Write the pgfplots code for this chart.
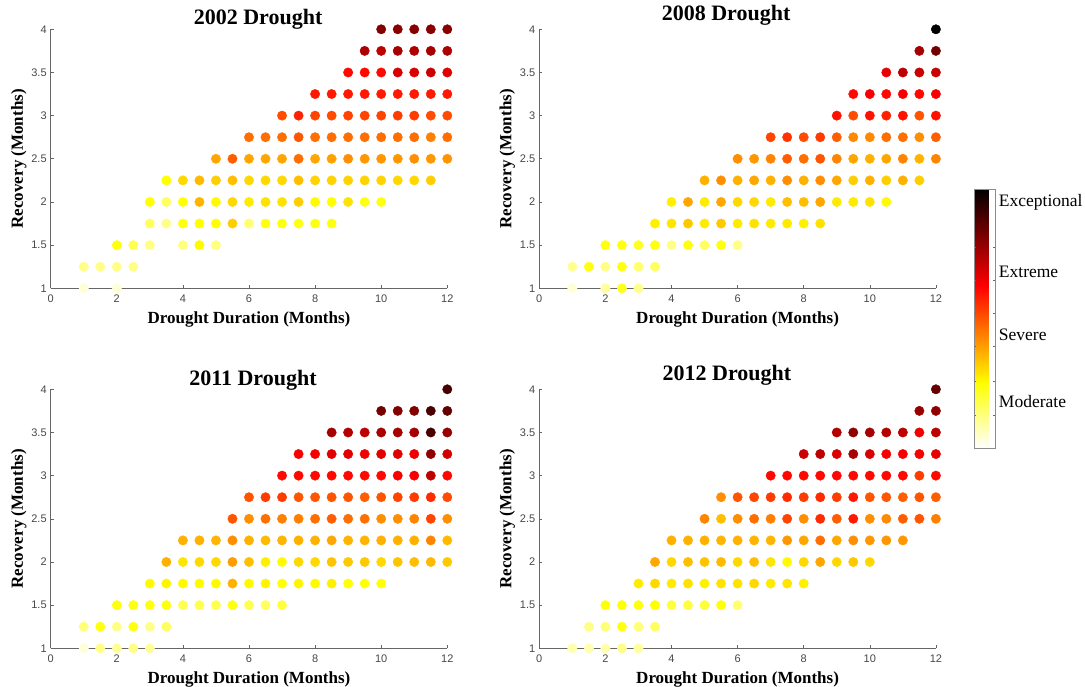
\documentclass[border=0pt]{standalone}
\usepackage{pgfplots}
\pgfplotsset{compat=1.18}
\usepackage{pgfplotstable}
\usepackage{fontspec}
\setmainfont{Liberation Serif}
\newfontfamily\sansf{Liberation Sans}

\pgfplotstableread{
x y c
1 1 0.05
2 1 0.05
1 1.25 0.15
1.5 1.25 0.15
2 1.25 0.15
2.5 1.25 0.15
2 1.5 0.30
2.5 1.5 0.22
3 1.5 0.16
4 1.5 0.16
4.5 1.5 0.33
5 1.5 0.16
3 1.75 0.20
3.5 1.75 0.15
4 1.75 0.30
4.5 1.75 0.32
5 1.75 0.32
5.5 1.75 0.42
6 1.75 0.18
6.5 1.75 0.30
7 1.75 0.30
7.5 1.75 0.30
8 1.75 0.30
8.5 1.75 0.30
3 2 0.32
3.5 2 0.20
4 2 0.32
4.5 2 0.47
5 2 0.33
5.5 2 0.40
6 2 0.36
6.5 2 0.38
7 2 0.38
7.5 2 0.42
8 2 0.33
8.5 2 0.32
9 2 0.38
9.5 2 0.30
10 2 0.30
3.5 2.25 0.32
4 2.25 0.40
4.5 2.25 0.46
5 2.25 0.42
5.5 2.25 0.45
6 2.25 0.40
6.5 2.25 0.40
7 2.25 0.40
7.5 2.25 0.45
8 2.25 0.41
8.5 2.25 0.41
9 2.25 0.41
9.5 2.25 0.41
10 2.25 0.41
10.5 2.25 0.40
11 2.25 0.40
11.5 2.25 0.42
5 2.5 0.50
5.5 2.5 0.62
6 2.5 0.50
6.5 2.5 0.50
7 2.5 0.50
7.5 2.5 0.60
8 2.5 0.50
8.5 2.5 0.51
9 2.5 0.55
9.5 2.5 0.53
10 2.5 0.53
10.5 2.5 0.53
11 2.5 0.55
11.5 2.5 0.53
12 2.5 0.54
6 2.75 0.60
6.5 2.75 0.60
7 2.75 0.60
7.5 2.75 0.63
8 2.75 0.60
8.5 2.75 0.60
9 2.75 0.60
9.5 2.75 0.60
10 2.75 0.60
10.5 2.75 0.60
11 2.75 0.60
11.5 2.75 0.58
12 2.75 0.60
7 3 0.64
7.5 3 0.69
8 3 0.65
8.5 3 0.64
9 3 0.65
9.5 3 0.65
10 3 0.65
10.5 3 0.66
11 3 0.66
11.5 3 0.64
12 3 0.64
8 3.25 0.70
8.5 3.25 0.70
9 3.25 0.70
9.5 3.25 0.70
10 3.25 0.70
10.5 3.25 0.70
11 3.25 0.70
11.5 3.25 0.70
12 3.25 0.70
9 3.5 0.72
9.5 3.5 0.72
10 3.5 0.72
10.5 3.5 0.78
11 3.5 0.78
11.5 3.5 0.80
12 3.5 0.77
9.5 3.75 0.84
10 3.75 0.82
10.5 3.75 0.85
11 3.75 0.84
11.5 3.75 0.85
12 3.75 0.84
10 4 0.90
10.5 4 0.89
11 4 0.89
11.5 4 0.89
12 4 0.89
}\dA

\pgfplotstableread{
x y c
1 1 0.05
2 1 0.12
2.5 1 0.28
3 1 0.14
1 1.25 0.14
1.5 1.25 0.30
2 1.25 0.15
2.5 1.25 0.30
3 1.25 0.18
3.5 1.25 0.20
2 1.5 0.30
2.5 1.5 0.30
3 1.5 0.28
3.5 1.5 0.30
4 1.5 0.15
4.5 1.5 0.30
5 1.5 0.20
5.5 1.5 0.30
6 1.5 0.15
3.5 1.75 0.35
4 1.75 0.37
4.5 1.75 0.43
5 1.75 0.36
5.5 1.75 0.43
6 1.75 0.36
6.5 1.75 0.38
7 1.75 0.36
7.5 1.75 0.36
8 1.75 0.35
8.5 1.75 0.38
4 2 0.35
4.5 2 0.50
5 2 0.36
5.5 2 0.50
6 2 0.40
6.5 2 0.40
7 2 0.36
7.5 2 0.45
8 2 0.45
8.5 2 0.50
9 2 0.36
9.5 2 0.36
10 2 0.38
10.5 2 0.33
5 2.25 0.48
5.5 2.25 0.55
6 2.25 0.48
6.5 2.25 0.50
7 2.25 0.48
7.5 2.25 0.55
8 2.25 0.48
8.5 2.25 0.55
9 2.25 0.50
9.5 2.25 0.42
10 2.25 0.48
10.5 2.25 0.42
11 2.25 0.48
11.5 2.25 0.42
6 2.5 0.55
6.5 2.5 0.53
7 2.5 0.57
7.5 2.5 0.62
8 2.5 0.60
8.5 2.5 0.63
9 2.5 0.57
9.5 2.5 0.50
10 2.5 0.48
10.5 2.5 0.50
11 2.5 0.57
11.5 2.5 0.47
12 2.5 0.57
7 2.75 0.65
7.5 2.75 0.67
8 2.75 0.64
8.5 2.75 0.66
9 2.75 0.62
9.5 2.75 0.56
10 2.75 0.56
10.5 2.75 0.60
11 2.75 0.60
11.5 2.75 0.55
12 2.75 0.62
9 3 0.71
9.5 3 0.64
10 3 0.71
10.5 3 0.69
11 3 0.71
11.5 3 0.63
12 3 0.71
9.5 3.25 0.72
10 3.25 0.74
10.5 3.25 0.72
11 3.25 0.74
11.5 3.25 0.72
12 3.25 0.74
10.5 3.5 0.76
11 3.5 0.82
11.5 3.5 0.80
12 3.5 0.80
11.5 3.75 0.85
12 3.75 0.92
12 4 1.00
}\dB

\pgfplotstableread{
x y c
1 1 0.05
1.5 1 0.15
2 1 0.13
2.5 1 0.15
3 1 0.13
1 1.25 0.17
1.5 1.25 0.30
2 1.25 0.15
2.5 1.25 0.30
3 1.25 0.15
3.5 1.25 0.20
2 1.5 0.30
2.5 1.5 0.30
3 1.5 0.30
3.5 1.5 0.30
4 1.5 0.22
4.5 1.5 0.22
5 1.5 0.22
5.5 1.5 0.30
6 1.5 0.22
6.5 1.5 0.20
7 1.5 0.24
3 1.75 0.33
3.5 1.75 0.34
4 1.75 0.33
4.5 1.75 0.33
5 1.75 0.33
5.5 1.75 0.48
6 1.75 0.33
6.5 1.75 0.34
7 1.75 0.31
7.5 1.75 0.34
8 1.75 0.33
8.5 1.75 0.35
9 1.75 0.31
9.5 1.75 0.31
10 1.75 0.31
3.5 2 0.48
4 2 0.37
4.5 2 0.40
5 2 0.40
5.5 2 0.52
6 2 0.45
6.5 2 0.35
7 2 0.33
7.5 2 0.40
8 2 0.40
8.5 2 0.44
9 2 0.43
9.5 2 0.43
10 2 0.40
10.5 2 0.44
11 2 0.45
11.5 2 0.46
12 2 0.43
4 2.25 0.48
4.5 2.25 0.48
5 2.25 0.47
5.5 2.25 0.55
6 2.25 0.48
6.5 2.25 0.46
7 2.25 0.47
7.5 2.25 0.48
8 2.25 0.48
8.5 2.25 0.50
9 2.25 0.47
9.5 2.25 0.47
10 2.25 0.48
10.5 2.25 0.48
11 2.25 0.48
11.5 2.25 0.57
12 2.25 0.46
5.5 2.5 0.63
6 2.5 0.55
6.5 2.5 0.60
7 2.5 0.58
7.5 2.5 0.58
8 2.5 0.60
8.5 2.5 0.62
9 2.5 0.60
9.5 2.5 0.60
10 2.5 0.55
10.5 2.5 0.55
11 2.5 0.57
11.5 2.5 0.65
12 2.5 0.55
6 2.75 0.63
6.5 2.75 0.66
7 2.75 0.66
7.5 2.75 0.63
8 2.75 0.63
8.5 2.75 0.63
9 2.75 0.63
9.5 2.75 0.62
10 2.75 0.63
10.5 2.75 0.65
11 2.75 0.66
11.5 2.75 0.68
12 2.75 0.64
7 3 0.72
7.5 3 0.72
8 3 0.72
8.5 3 0.72
9 3 0.72
9.5 3 0.72
10 3 0.72
10.5 3 0.74
11 3 0.74
11.5 3 0.82
12 3 0.72
7.5 3.25 0.74
8 3.25 0.74
8.5 3.25 0.77
9 3.25 0.77
9.5 3.25 0.75
10 3.25 0.77
10.5 3.25 0.77
11 3.25 0.75
11.5 3.25 0.88
12 3.25 0.79
8.5 3.5 0.85
9 3.5 0.83
9.5 3.5 0.82
10 3.5 0.85
10.5 3.5 0.85
11 3.5 0.85
11.5 3.5 0.95
12 3.5 0.87
10 3.75 0.92
10.5 3.75 0.90
11 3.75 0.90
11.5 3.75 0.95
12 3.75 0.93
12 4 0.95
}\dC

\pgfplotstableread{
x y c
1 1 0.10
1.5 1 0.10
2 1 0.10
2.5 1 0.15
3 1 0.12
1.5 1.25 0.15
2 1.25 0.17
2.5 1.25 0.30
3 1.25 0.17
3.5 1.25 0.20
2 1.5 0.31
2.5 1.5 0.31
3 1.5 0.30
3.5 1.5 0.32
4 1.5 0.24
4.5 1.5 0.24
5 1.5 0.25
5.5 1.5 0.31
6 1.5 0.18
3 1.75 0.36
3.5 1.75 0.40
4 1.75 0.36
4.5 1.75 0.38
5 1.75 0.35
5.5 1.75 0.38
6 1.75 0.38
6.5 1.75 0.40
7 1.75 0.36
7.5 1.75 0.37
8 1.75 0.35
3.5 2 0.50
4 2 0.40
4.5 2 0.45
5 2 0.44
5.5 2 0.46
6 2 0.40
6.5 2 0.45
7 2 0.37
7.5 2 0.33
8 2 0.40
8.5 2 0.50
9 2 0.40
9.5 2 0.43
10 2 0.40
4 2.25 0.48
4.5 2.25 0.48
5 2.25 0.48
5.5 2.25 0.47
6 2.25 0.48
6.5 2.25 0.47
7 2.25 0.47
7.5 2.25 0.53
8 2.25 0.50
8.5 2.25 0.60
9 2.25 0.50
9.5 2.25 0.55
10 2.25 0.53
10.5 2.25 0.53
11 2.25 0.53
5 2.5 0.57
5.5 2.5 0.45
6 2.5 0.55
6.5 2.5 0.60
7 2.5 0.58
7.5 2.5 0.65
8 2.5 0.55
8.5 2.5 0.68
9 2.5 0.62
9.5 2.5 0.70
10 2.5 0.55
10.5 2.5 0.56
11 2.5 0.62
11.5 2.5 0.63
12 2.5 0.58
5.5 2.75 0.55
6 2.75 0.63
6.5 2.75 0.65
7 2.75 0.66
7.5 2.75 0.68
8 2.75 0.66
8.5 2.75 0.68
9 2.75 0.66
9.5 2.75 0.70
10 2.75 0.63
10.5 2.75 0.63
11 2.75 0.62
11.5 2.75 0.63
12 2.75 0.62
7 3 0.72
7.5 3 0.72
8 3 0.72
8.5 3 0.72
9 3 0.72
9.5 3 0.72
10 3 0.72
10.5 3 0.72
11 3 0.72
11.5 3 0.66
12 3 0.72
8 3.25 0.80
8.5 3.25 0.82
9 3.25 0.78
9.5 3.25 0.85
10 3.25 0.78
10.5 3.25 0.74
11 3.25 0.74
11.5 3.25 0.74
12 3.25 0.76
9 3.5 0.83
9.5 3.5 0.88
10 3.5 0.85
10.5 3.5 0.83
11 3.5 0.82
11.5 3.5 0.75
12 3.5 0.82
11.5 3.75 0.87
12 3.75 0.88
12 4 0.93
}\dD

\pgfplotsset{
  colormap={mine}{rgb(0pt)=(1,1,1) rgb(32pt)=(1,1,0) rgb(58pt)=(1,0.5,0) rgb(73pt)=(1,0,0) rgb(92pt)=(0.45,0,0) rgb(100pt)=(0,0,0)},
  colormap={hotflip}{rgb(0pt)=(1,1,1) rgb(2pt)=(1,1,0) rgb(5pt)=(1,0,0) rgb(8pt)=(0,0,0)},
  panel/.style={
    scale only axis, width=396.6pt, height=259pt,
    xmin=0, xmax=12, ymin=1, ymax=4,
    axis lines=left,
    axis line style={-, black!60, line width=0.6pt},
    xtick={0,2,...,12}, ytick={1,1.5,...,4},
    tick align=inside, major tick length=3pt,
    tick style={black!60, line width=0.6pt},
    clip=false,
    point meta min=0, point meta max=1,
    colormap name=mine,
    /pgf/number format/assume math mode=true,
    tick label style={font=\sansf\fontsize{11}{13}\selectfont, text=black!72},
    xticklabel style={yshift=-3pt},
    yticklabel style={xshift=-0.5pt},
    xlabel={Drought Duration (Months)},
    ylabel={Recovery (Months)},
    label style={font=\bfseries\fontsize{17}{20}\selectfont},
    xlabel style={at={(axis description cs:0.5,-0.135)}, anchor=base},
    ylabel style={at={(axis description cs:-0.0807,0.5)}, anchor=center},
  },
  pts/.style={scatter, only marks, mark=*, mark size=4.7pt,
    scatter src=explicit,
    scatter/use mapped color={draw=mapped color, fill=mapped color}},
}

\begin{document}
\begin{tikzpicture}
\path[use as bounding box] (0,0) rectangle (1085pt,686pt);

\begin{axis}[panel, at={(50.7pt,397.7pt)}, anchor=south west,
  title={2002 Drought},
  title style={at={(axis description cs:0.523,1)}, anchor=base, yshift=-1pt, font=\bfseries\fontsize{22}{26}\selectfont}]
\addplot[pts] table[x=x, y=y, meta=c] {\dA};
\end{axis}

\begin{axis}[panel, at={(539.3pt,397.7pt)}, anchor=south west,
  title={2008 Drought},
  title style={at={(axis description cs:0.471,1)}, anchor=base, yshift=2.6pt, font=\bfseries\fontsize{22}{26}\selectfont}]
\addplot[pts] table[x=x, y=y, meta=c] {\dB};
\end{axis}

\begin{axis}[panel, at={(50.7pt,37.7pt)}, anchor=south west,
  title={2011 Drought},
  title style={at={(axis description cs:0.51,1)}, anchor=base, yshift=-1.7pt, font=\bfseries\fontsize{22}{26}\selectfont}]
\addplot[pts] table[x=x, y=y, meta=c] {\dC};
\end{axis}

\begin{axis}[panel, at={(539.3pt,37.7pt)}, anchor=south west,
  title={2012 Drought},
  title style={at={(axis description cs:0.473,1)}, anchor=base, yshift=2.6pt, font=\bfseries\fontsize{22}{26}\selectfont},
  colorbar,
  colorbar style={
    colormap name=hotflip,
    at={(parent axis.south east)}, anchor=south west,
    xshift=30pt, yshift=200.3pt,
    scale only axis, width=21pt, height=259pt,
    axis line style={black!45, line width=0.5pt},
    ytick={0.127,0.256,0.391,0.521,0.649,0.777},
    yticklabels={,,,,,},
    tick align=inside, major tick length=2pt,
    tick style={black!60, line width=0.5pt},
    extra y ticks={0.18,0.436,0.68,0.947},
    extra y tick labels={Moderate,Severe,Extreme,Exceptional},
    extra y tick style={major tick length=0pt,
      tick label style={font=\fontsize{17.5}{20}\selectfont, text=black}},
  }]
\addplot[pts] table[x=x, y=y, meta=c] {\dD};
\end{axis}
\end{tikzpicture}
\end{document}
